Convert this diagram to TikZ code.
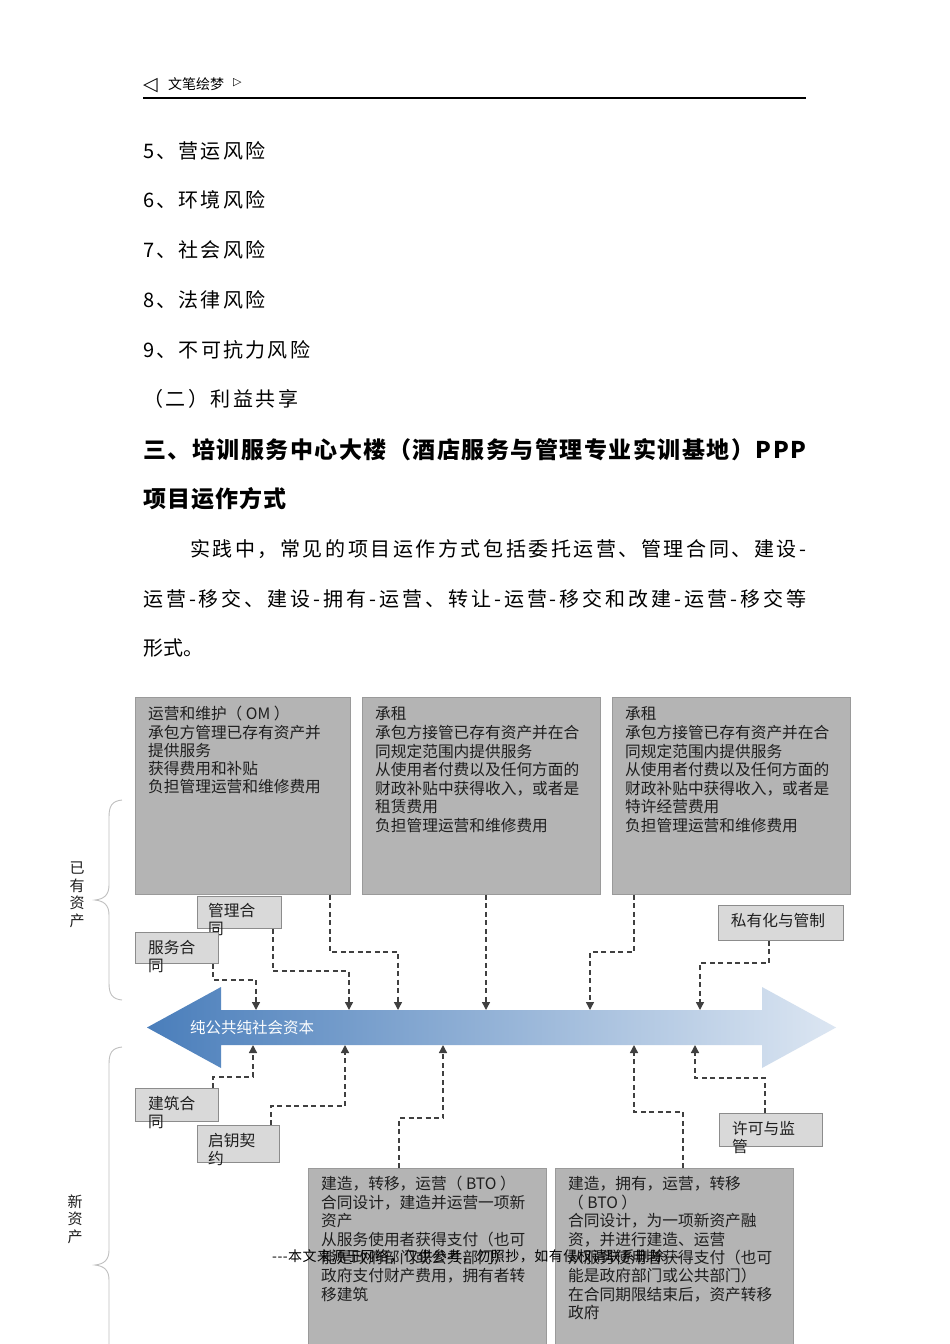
\documentclass[tikz,border=0pt]{standalone}
\usepackage{fontspec}
\setmainfont{Noto Sans CJK SC}
\newfontfamily\djv{DejaVu Sans}
\usetikzlibrary{arrows.meta}
\definecolor{bigfill}{HTML}{B4B4B4}
\definecolor{bigedge}{HTML}{9A9A9A}
\definecolor{smfill}{HTML}{D9D9D9}
\definecolor{smedge}{HTML}{8C8C8C}
\definecolor{arrL}{HTML}{4A7EBB}
\definecolor{arrR}{HTML}{DCE6F2}
\definecolor{conncol}{HTML}{404040}
\definecolor{bracecol}{HTML}{C0C0C0}
\definecolor{txtcol}{HTML}{1E1E1E}
\let\endspread\relax
\def\sprA#1{#1\sprB}
\def\sprB#1{\ifx#1\endspread\else\hfil#1\expandafter\sprB\fi}
\newcommand\spreadbox[2]{\hbox to #1{\sprA#2\endspread}}
\newcommand\txtlines[5]{%
  \foreach \myl [count=\myi] in {#5} {\node[boxtxt] (#1-\myi) at ({#2},{#3+(\myi-1)*#4}) {\myl};}}
\tikzset{
  body/.style={anchor=base west, inner sep=0, font=\fontsize{20}{20}\selectfont},
  headtxt/.style={anchor=base west, inner sep=0, font=\bfseries\fontsize{23}{23}\selectfont},
  boxtxt/.style={anchor=base west, inner sep=0, text=txtcol, font=\fontsize{15.7}{15.7}\selectfont},
  bigbox/.style={draw=bigedge, fill=bigfill, line width=0.8pt, inner sep=0, anchor=north west},
  smbox/.style={draw=smedge, fill=smfill, line width=0.8pt, inner sep=0, anchor=north west},
  conn/.style={draw=conncol, line width=1.4pt, dash pattern=on 5pt off 3.5pt, -{Triangle[length=8pt,width=8pt]}},
  bracestyle/.style={draw=bracecol, line width=0.9pt},
}
\begin{document}
\begin{tikzpicture}[x=1pt,y=-1pt]
\useasboundingbox (0,0) rectangle (950,1344);
\fill[white] (0,0) rectangle (950,1344);

% header
\node[anchor=base west, inner sep=0, font=\djv\fontsize{19}{19}\selectfont] (hl) at (143,90.5) {◁};
\node[anchor=base west, inner sep=0, font=\fontsize{14}{14}\selectfont] (ht) at (168,89.3) {文笔绘梦};
\node[anchor=base west, inner sep=0, font=\djv\fontsize{11}{11}\selectfont] (hr) at (233,85) {▷};
\draw[line width=1.6pt] (143,98) -- (806,98);

% body text
\node[body] (l5) at (143,158.6) {\spreadbox{122pt}{5、营运风险}};
\node[body] (l6) at (143,207.6) {\spreadbox{122pt}{6、环境风险}};
\node[body] (l7) at (143,257.6) {\spreadbox{122pt}{7、社会风险}};
\node[body] (l8) at (143,307.6) {\spreadbox{122pt}{8、法律风险}};
\node[body] (l9) at (143,357.6) {\spreadbox{167pt}{9、不可抗力风险}};
\node[body] (l10) at (143,406.6) {\spreadbox{155pt}{（二）利益共享}};
\node[headtxt] (h1) at (143,458.7) {\spreadbox{663pt}{三、培训服务中心大楼（酒店服务与管理专业实训基地）PPP}};
\node[headtxt] (h2) at (143,507.7) {\spreadbox{143pt}{项目运作方式}};
\node[body] (p1) at (190,556.6) {\spreadbox{616pt}{实践中，常见的项目运作方式包括委托运营、管理合同、建设-}};
\node[body] (p2) at (143,606.6) {\spreadbox{663pt}{运营-移交、建设-拥有-运营、转让-运营-移交和改建-运营-移交等}};
\node[body] (p3) at (143,655.6) {形式。};

% braces and side labels
\draw[bracestyle] (122,800) .. controls (112,801) and (109,806) .. (109,817) -- (109,885) .. controls (109,895) and (104,899) .. (95,900) .. controls (104,901) and (109,905) .. (109,915) -- (109,983) .. controls (109,994) and (112,999) .. (122,1000);
\draw[bracestyle] (122,1047) .. controls (112,1048) and (109,1053) .. (109,1064) -- (109,1250) .. controls (109,1260) and (104,1264) .. (95,1265) .. controls (104,1266) and (109,1270) .. (109,1280) -- (109,1466) .. controls (109,1477) and (112,1482) .. (122,1483);
\node[inner sep=0, align=center, text=txtcol, font=\fontsize{15}{17.5}\selectfont] (lab1) at (77,895) {已\\有\\资\\产};
\node[inner sep=0, align=center, text=txtcol, font=\fontsize{15}{17.5}\selectfont] (lab2) at (75,1219) {新\\资\\产};

% big top boxes
\node[bigbox, minimum width=215, minimum height=197] (om) at (135,697) {};
\node[bigbox, minimum width=238, minimum height=197] (lease1) at (362,697) {};
\node[bigbox, minimum width=238, minimum height=197] (lease2) at (612,697) {};
\txtlines{omt}{148}{719.9}{18.2}{运营和维护（ OM ）,承包方管理已存有资产并,提供服务,获得费用和补贴,负担管理运营和维修费用}
\txtlines{la}{375}{719.9}{18.55}{承租,承包方接管已存有资产并在合,同规定范围内提供服务,从使用者付费以及任何方面的,财政补贴中获得收入，或者是,租赁费用,负担管理运营和维修费用}
\txtlines{lb}{625}{719.9}{18.55}{承租,承包方接管已存有资产并在合,同规定范围内提供服务,从使用者付费以及任何方面的,财政补贴中获得收入，或者是,特许经营费用,负担管理运营和维修费用}

% bottom big boxes
\node[bigbox, minimum width=238, minimum height=200] (bto) at (308,1168) {};
\node[bigbox, minimum width=238, minimum height=200] (boot) at (555,1168) {};
\txtlines{bt}{321}{1189.9}{18.4}{建造，转移，运营（ BTO ）,合同设计，建造并运营一项新,资产,从服务使用者获得支付（也可,能是政府部门或公共部门）,政府支付财产费用，拥有者转,移建筑}
\txtlines{bo}{568}{1189.9}{18.4}{建造，拥有，运营，转移,（ BTO ）,合同设计，为一项新资产融,资，并进行建造、运营,从服务使用者获得支付（也可,能是政府部门或公共部门）,在合同期限结束后，资产转移,政府}

% small boxes
\node[smbox, minimum width=84, minimum height=32] (mgmt) at (197,896) {};
\txtlines{mg}{208}{916.9}{18}{管理合,同}
\node[smbox, minimum width=83, minimum height=31] (svc) at (135,932) {};
\txtlines{sv}{148}{953.9}{18}{服务合,同}
\node[smbox, minimum width=125, minimum height=35] (priv) at (718,905) {};
\node[boxtxt, anchor=base] (pvt) at (778,926.9) {私有化与管制};
\node[smbox, minimum width=83, minimum height=33] (build) at (135,1088) {};
\txtlines{bd}{148}{1109.9}{18}{建筑合,同}
\node[smbox, minimum width=82, minimum height=37] (key) at (197,1125) {};
\txtlines{ky}{208}{1146.9}{18}{启钥契,约}
\node[smbox, minimum width=103, minimum height=33] (permit) at (719,1113) {};
\txtlines{pm}{732}{1134.9}{18}{许可与监,管}

% central arrow
\shade[left color=arrL, right color=arrR] (147,1027.5) -- (221,987) -- (221,1010) -- (762,1010) -- (762,987) -- (836,1027.5) -- (762,1068) -- (762,1045) -- (221,1045) -- (221,1068) -- cycle;
\node[anchor=base west, inner sep=0, text=white!92!arrR, font=\fontsize{15.5}{15.5}\selectfont] (arrtxt) at (190,1033) {纯公共纯社会资本};

\coordinate (a1) at (256,1010);
\coordinate (a2) at (349,1010);
\coordinate (a3) at (398,1010);
\coordinate (a4) at (486,1010);
\coordinate (a5) at (590,1010);
\coordinate (a6) at (700,1010);
\coordinate (b1) at (253,1045);
\coordinate (b2) at (345,1045);
\coordinate (b3) at (443,1045);
\coordinate (b4) at (634,1045);
\coordinate (b5) at (695,1045);

% connectors top
\draw[conn] ([xshift=-6pt]svc.south east) -- ++(0,16) -| (a1);
\draw[conn] ([xshift=-9pt]mgmt.south east) -- ++(0,42) -| (a2);
\draw[conn] ([xshift=-21pt]om.south east) -- ++(0,57) -| (a3);
\draw[conn] ([xshift=124pt]lease1.south west) -- (a4);
\draw[conn] ([xshift=22pt]lease2.south west) -- ++(0,57) -| (a5);
\draw[conn] ([xshift=51pt]priv.south west) -- ++(0,22) -| (a6);
% connectors bottom
\draw[conn] ([xshift=-6pt]build.north east) -- ++(0,-11) -| (b1);
\draw[conn] ([xshift=-9pt]key.north east) -- ++(0,-19) -| (b2);
\draw[conn] ([xshift=91pt]bto.north west) -- ++(0,-50) -| (b3);
\draw[conn] ([xshift=128pt]boot.north west) -- ++(0,-56) -| (b4);
\draw[conn] ([xshift=46pt]permit.north west) -- ++(0,-35) -| (b5);

% watermark
\node[anchor=base west, inner sep=0, font=\fontsize{14}{14}\selectfont] (wm) at (272,1261.3) {\spreadbox{408pt}{---本文来源于网络，仅供参考，勿照抄，如有侵权请联系删除---}};
\end{tikzpicture}
\end{document}
